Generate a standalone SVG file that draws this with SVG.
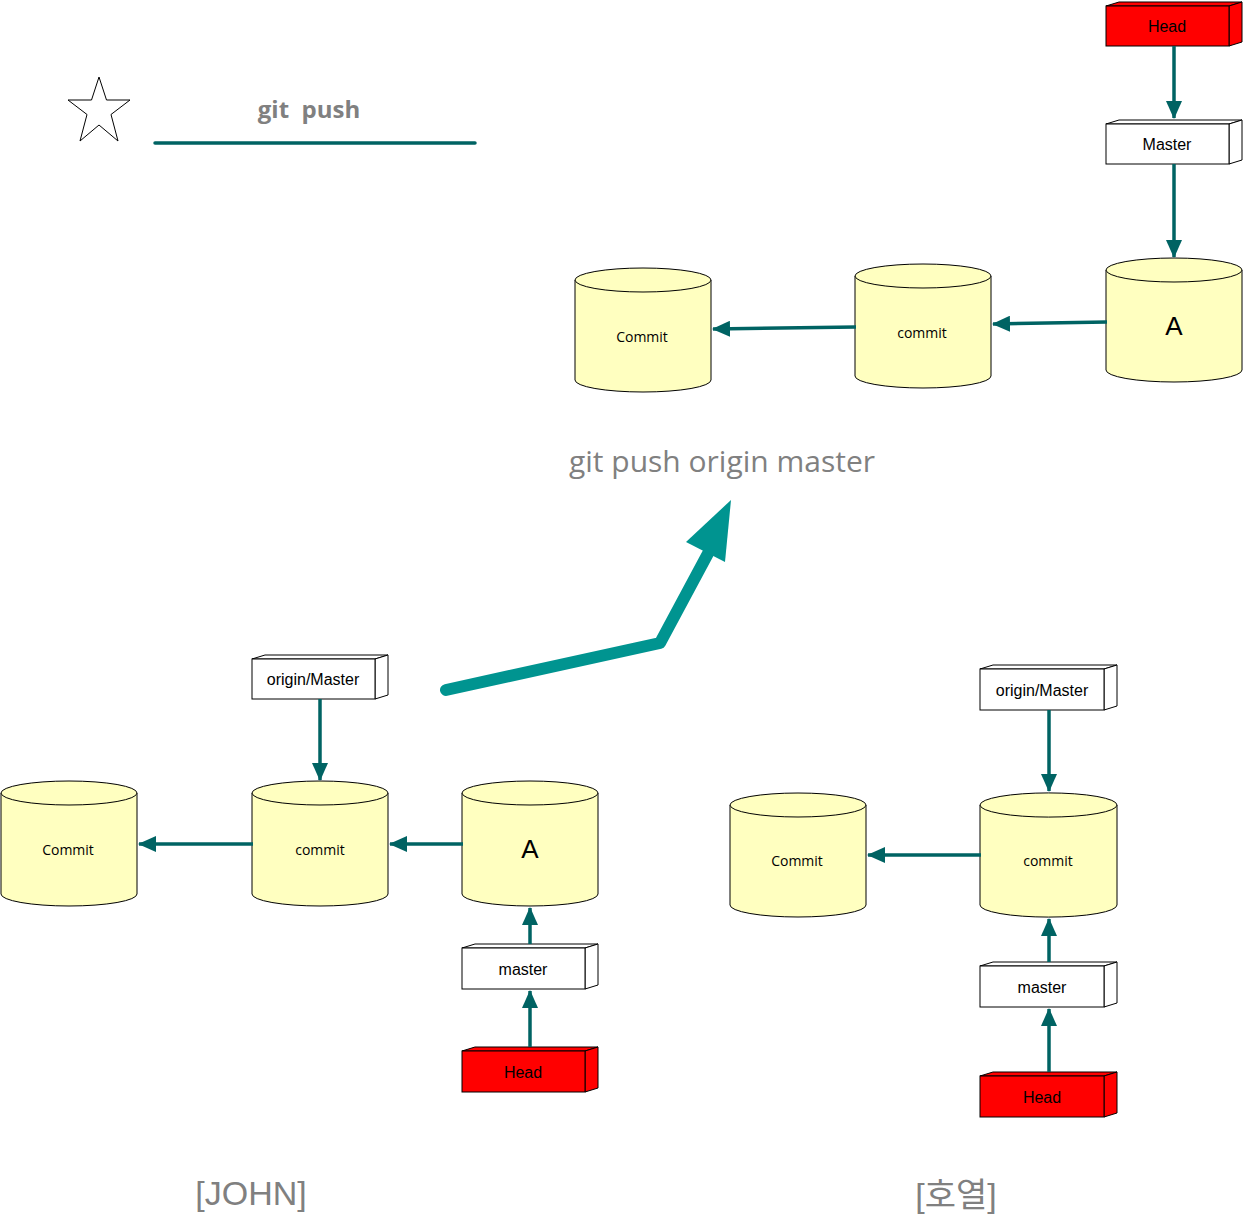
<svg xmlns="http://www.w3.org/2000/svg" width="1243" height="1229" viewBox="0 0 1243 1229">
<style>
.box{fill:#ffffff;stroke:#000;stroke-width:1}
.head .box{fill:#ff0000}
.cyl{fill:#ffffc0;stroke:#000;stroke-width:1}
.bt{font-family:"Liberation Sans",Arial,sans-serif;font-size:16px;text-anchor:middle;dominant-baseline:central;fill:#000}
.ct{font-family:"Open Sans","Noto Sans",sans-serif;font-size:14px;text-anchor:middle;dominant-baseline:central;fill:#000}
.at{font-family:"Liberation Sans",Arial,sans-serif;font-size:26px;text-anchor:middle;dominant-baseline:central;fill:#000}
.conn{stroke:#006363;stroke-width:3.5;fill:none;marker-end:url(#ah)}
.title{font-family:"Open Sans","Noto Sans",sans-serif;fill:#808080;text-anchor:middle}
.lbl{font-family:"Liberation Sans","Noto Sans CJK KR",sans-serif;fill:#808080;text-anchor:middle;font-size:34px}
</style>
<defs>
<marker id="ah" viewBox="0 0 18 16" refX="17" refY="8" markerWidth="18" markerHeight="16" markerUnits="userSpaceOnUse" orient="auto">
<path d="M0,0 L18,8 L0,16 Z" fill="#006363"/>
</marker>
</defs>

<!-- decorations -->
<g id="star">
<polygon points="99,77 106.5,100 130,100 111,114.5 118,141 99,125 80,141 87,114.5 68,100 91.5,100" fill="#fff" stroke="#000" stroke-width="1"/>
</g>
<g id="title-git-push">
<text class="title" x="309" y="118" font-size="24" font-weight="bold">git&#160; push</text>
<line x1="155" y1="143" x2="475" y2="143" stroke="#006363" stroke-width="3.5" stroke-linecap="round"/>
</g>
<g id="title-push-origin">
<text class="title" x="722" y="472" font-size="30">git push origin master</text>
</g>
<g id="big-arrow">
<polyline points="446,690 660,643 712,546" fill="none" stroke="#009490" stroke-width="12" stroke-linecap="round" stroke-linejoin="round"/>
<polygon points="731,500 686,542 725,562" fill="#009490"/>
</g>

<!-- top (remote) -->
<g id="remote-head" class="head">
<polygon class="box" points="1106,6 1119,2 1242,2 1229,6"/>
<polygon class="box" points="1229,6 1242,2 1242,42 1229,46"/>
<rect class="box" x="1106" y="6" width="123" height="40"/>
<text class="bt" x="1167" y="26">Head</text>
</g>
<g id="remote-master">
<polygon class="box" points="1106,124 1119,120 1242,120 1229,124"/>
<polygon class="box" points="1229,124 1242,120 1242,160 1229,164"/>
<rect class="box" x="1106" y="124" width="123" height="40"/>
<text class="bt" x="1167" y="144">Master</text>
</g>
<g id="remote-A">
<path class="cyl" d="M1106,270 A68,12 0 0 1 1242,270 V370 A68,12 0 0 1 1106,370 Z"/>
<path class="cyl" d="M1106,270 A68,12 0 0 0 1242,270" fill="none"/>
<text class="at" x="1174" y="326">A</text>
</g>
<g id="remote-commit2">
<path class="cyl" d="M855,276 A68,12 0 0 1 991,276 V376 A68,12 0 0 1 855,376 Z"/>
<path class="cyl" d="M855,276 A68,12 0 0 0 991,276" fill="none"/>
<text class="ct" x="922" y="332">commit</text>
</g>
<g id="remote-commit1">
<path class="cyl" d="M575,280 A68,12 0 0 1 711,280 V380 A68,12 0 0 1 575,380 Z"/>
<path class="cyl" d="M575,280 A68,12 0 0 0 711,280" fill="none"/>
<text class="ct" x="642" y="336">Commit</text>
</g>

<!-- JOHN -->
<g id="john-origin-master">
<polygon class="box" points="252,659 265,655 388,655 375,659"/>
<polygon class="box" points="375,659 388,655 388,695 375,699"/>
<rect class="box" x="252" y="659" width="123" height="40"/>
<text class="bt" x="313" y="679">origin/Master</text>
</g>
<g id="john-commit1">
<path class="cyl" d="M1,793 A68,12 0 0 1 137,793 V894 A68,12 0 0 1 1,894 Z"/>
<path class="cyl" d="M1,793 A68,12 0 0 0 137,793" fill="none"/>
<text class="ct" x="68" y="849">Commit</text>
</g>
<g id="john-commit2">
<path class="cyl" d="M252,793 A68,12 0 0 1 388,793 V894 A68,12 0 0 1 252,894 Z"/>
<path class="cyl" d="M252,793 A68,12 0 0 0 388,793" fill="none"/>
<text class="ct" x="320" y="849">commit</text>
</g>
<g id="john-A">
<path class="cyl" d="M462,793 A68,12 0 0 1 598,793 V894 A68,12 0 0 1 462,894 Z"/>
<path class="cyl" d="M462,793 A68,12 0 0 0 598,793" fill="none"/>
<text class="at" x="530" y="849">A</text>
</g>
<g id="john-master">
<polygon class="box" points="462,948 475,944 598,944 585,948"/>
<polygon class="box" points="585,948 598,944 598,985 585,989"/>
<rect class="box" x="462" y="948" width="123" height="41"/>
<text class="bt" x="523" y="969">master</text>
</g>
<g id="john-head" class="head">
<polygon class="box" points="462,1051 475,1047 598,1047 585,1051"/>
<polygon class="box" points="585,1051 598,1047 598,1088 585,1092"/>
<rect class="box" x="462" y="1051" width="123" height="41"/>
<text class="bt" x="523" y="1072">Head</text>
</g>

<!-- 호열 -->
<g id="hy-origin-master">
<polygon class="box" points="980,669 993,665 1117,665 1104,669"/>
<polygon class="box" points="1104,669 1117,665 1117,706 1104,710"/>
<rect class="box" x="980" y="669" width="124" height="41"/>
<text class="bt" x="1042" y="690">origin/Master</text>
</g>
<g id="hy-commit1">
<path class="cyl" d="M730,805 A68,12 0 0 1 866,805 V905 A68,12 0 0 1 730,905 Z"/>
<path class="cyl" d="M730,805 A68,12 0 0 0 866,805" fill="none"/>
<text class="ct" x="797" y="860">Commit</text>
</g>
<g id="hy-commit2">
<path class="cyl" d="M980,805 A68,12 0 0 1 1117,805 V905 A68,12 0 0 1 980,905 Z"/>
<path class="cyl" d="M980,805 A68,12 0 0 0 1117,805" fill="none"/>
<text class="ct" x="1048" y="860">commit</text>
</g>
<g id="hy-master">
<polygon class="box" points="980,966 993,962 1117,962 1104,966"/>
<polygon class="box" points="1104,966 1117,962 1117,1003 1104,1007"/>
<rect class="box" x="980" y="966" width="124" height="41"/>
<text class="bt" x="1042" y="987">master</text>
</g>
<g id="hy-head" class="head">
<polygon class="box" points="980,1076 993,1072 1117,1072 1104,1076"/>
<polygon class="box" points="1104,1076 1117,1072 1117,1113 1104,1117"/>
<rect class="box" x="980" y="1076" width="124" height="41"/>
<text class="bt" x="1042" y="1097">Head</text>
</g>

<g id="labels">
<text class="lbl" x="251" y="1205">[JOHN]</text>
<text class="lbl" x="956" y="1207" font-size="33">[호열]</text>
</g>

<g id="connectors">
<line class="conn" x1="1174" y1="46" x2="1174" y2="118"/>
<line class="conn" x1="1174" y1="164" x2="1174" y2="257"/>
<line class="conn" x1="1107" y1="322" x2="993" y2="324"/>
<line class="conn" x1="856" y1="327" x2="713" y2="329"/>
<line class="conn" x1="320" y1="699" x2="320" y2="780"/>
<line class="conn" x1="253" y1="844" x2="139" y2="844"/>
<line class="conn" x1="463" y1="844" x2="390" y2="844"/>
<line class="conn" x1="530" y1="944" x2="530" y2="908"/>
<line class="conn" x1="530" y1="1047" x2="530" y2="991"/>
<line class="conn" x1="1049" y1="710" x2="1049" y2="791"/>
<line class="conn" x1="981" y1="855" x2="868" y2="855"/>
<line class="conn" x1="1049" y1="962" x2="1049" y2="919"/>
<line class="conn" x1="1049" y1="1072" x2="1049" y2="1009"/>
</g>
</svg>
